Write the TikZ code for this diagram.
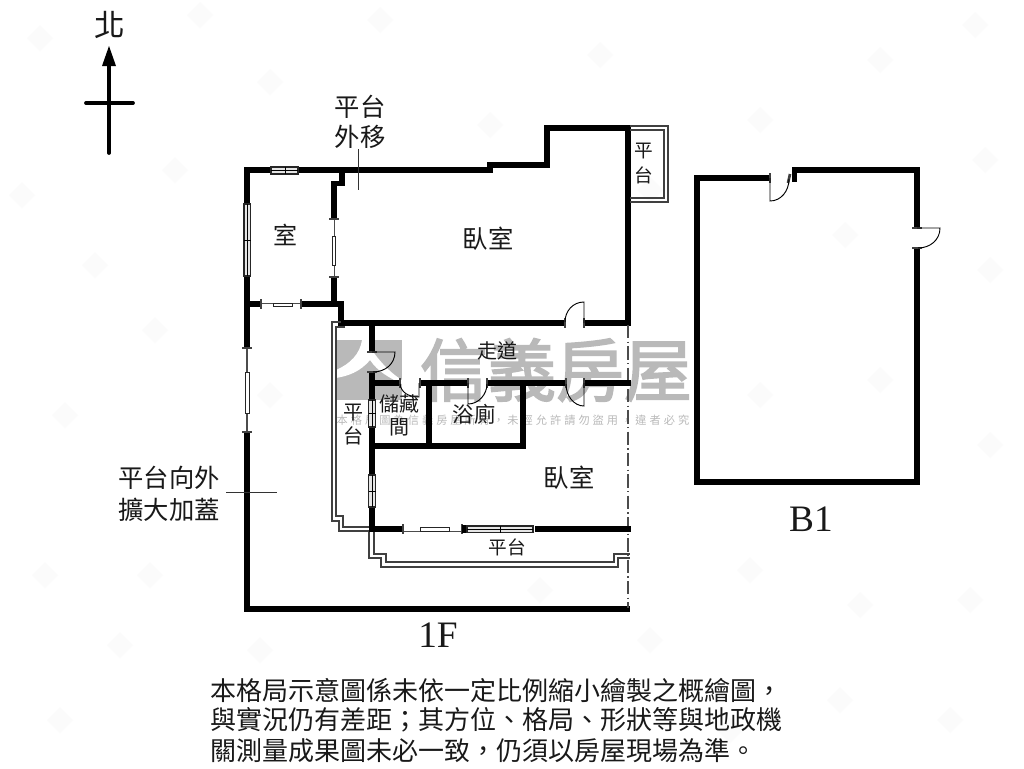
\documentclass[tikz,border=0pt]{standalone}
\usepackage{fontspec}
\setmainfont{Liberation Serif}
\newfontfamily\cjk{Noto Sans CJK TC}
\newfontfamily\cjkwide[LetterSpace=27]{Noto Sans CJK TC}
\newfontfamily\cjkheavy[FakeBold=2.5]{Noto Sans CJK TC}
\newcommand{\fpx}[1]{\fontsize{#1}{#1}\selectfont}
\newcommand{\fwc}{\char"FF0C\relax}
\newcommand{\fws}{\char"FF1B\relax}
\definecolor{wm}{HTML}{B9B9B9}
\definecolor{wmf}{HTML}{FBFBFB}
\tikzset{
  wall/.style={line width=4.4pt,line join=miter,line cap=butt,black},
  thin line/.style={line width=0.7pt,black!80},
  plat/.style={line width=0.85pt,black!75,line join=miter},
  leaf/.style={line width=0.7pt,black},
  jamb/.style={line width=2pt,black!75},
  glass/.style={draw=black!85,line width=0.7pt,fill=white},
  glassg/.style={draw=black!85,line width=0.8pt,fill=black!10},
  label/.style={inner sep=0pt,text=black!90,font=\cjk},
  latin/.style={inner sep=0pt,text=black!90},
}
\begin{document}
\begin{tikzpicture}[x=0.75pt,y=-0.75pt]
\useasboundingbox (0,0) rectangle (1024,768);
\fill[white] (0,0) rectangle (1024,768);
% faint repeated watermarks
\foreach \p in {(40,38),(200,15),(175,170),(22,195),(270,82),(380,20),(490,125),(600,55),(650,190),(760,120),(880,60),(975,25),(985,160),(845,235),(760,395),(880,380),(990,270),(65,415),(155,330),(95,265),(270,395),(150,575),(45,575),(260,650),(120,645),(60,720),(540,590),(650,640),(750,570),(860,605),(970,600),(990,445),(840,700),(950,720),(730,730)}
  \fill[wmf] \p ++(-13,0) -- ++(13,-13) -- ++(13,13) -- ++(-13,13) -- cycle;
% central watermark
\fill[wm] (336,340) rectangle (402,400);
\fill[white] (336,370) .. controls (350,364) and (360,354) .. (362,340) -- (372,340)
  .. controls (372,346) and (372,350) .. (374,353) .. controls (382,364) and (392,374) .. (402,380)
  -- (402,384) .. controls (390,378) and (378,372) .. (370,360)
  .. controls (360,372) and (348,376) .. (336,378) -- cycle;
\node[inner sep=0pt,text=wm,font=\cjkheavy\fpx{51}] (wmark) at (556,370) {信義房屋};
\node[inner sep=0pt,text=wm,font=\cjkwide\fpx{8.4}] (wmsmall) at (513,420) {本格局圖為信義房屋所有\fwc 未經允許請勿盜用\fwc 違者必究};
% north arrow
\draw[line width=2.8pt,line cap=round] (109,153) -- (109,62);
\draw[line width=2.8pt,line cap=round] (86,103) -- (133,103);
\fill (109,46) -- (116,66) -- (102,66) -- cycle;
% outer walls 1F
\draw[wall] (247,606) -- (247,167.5);
\draw[wall] (244,170.4) -- (490,170.4) -- (490,165) -- (547,165) -- (547,128) -- (628,128) -- (628,323) -- (584,323);
\draw[wall] (566,323) -- (341,323) -- (341,304) -- (301,304);
\draw[wall] (261,304) -- (247,304);
\draw[wall] (342,168) -- (342,183.5) -- (334,183.5) -- (334,219);
\draw[wall] (334,277) -- (334,304);
\draw[wall] (244,609) -- (630,609);
% clear left wall gap
\fill[white] (243,349) rectangle (251,431);
\draw[line width=0.8pt,black!70] (247,348) -- (247,432);
\draw[glass] (245,372) rectangle (249.5,413);
\draw[jamb] (242,348) -- (252,348);
\draw[jamb] (242,432) -- (252,432);
% left window
\draw[glassg] (244,204) rectangle (250.6,276);
\draw[line width=0.5pt] (247.3,204) -- (247.3,276) (244,240) -- (250.6,240);
% top window
\draw[glassg] (271,167) rectangle (298,174);
\draw[line width=0.5pt] (271,170.5) -- (298,170.5) (285,167) -- (285,174);
% inner vertical opening
\draw[line width=0.7pt,black!70] (334,219) -- (334,277);
\draw[glass] (332,236) rectangle (335.5,265);
\draw[jamb] (329,219) -- (339,219);
\draw[jamb] (329,277) -- (339,277);
% horizontal opening y=304
\draw[line width=0.7pt,black!70] (261,303) -- (301,303);
\draw[glass] (273,303) rectangle (292,306);
\draw[jamb] (261,299) -- (261,309);
\draw[jamb] (301,299) -- (301,309);
% platform north-east
\draw[plat] (630,126) -- (668,126) -- (668,202) -- (630,202);
\draw[plat] (630,130) -- (664,130) -- (664,198) -- (630,198);
% platform left
\draw[plat] (341,322) -- (332,322) -- (332,521) -- (339,521) -- (339,531) -- (372,531);
\draw[plat] (345,327) -- (336,327) -- (336,516) -- (343,516) -- (343,527) -- (372,527);
% platform south
\draw[plat] (369,530) -- (369,558) -- (381,558) -- (381,567) -- (618,567) -- (618,558) -- (630,558);
\draw[plat] (374,530) -- (374,554) -- (386,554) -- (386,562) -- (614,562) -- (614,554) -- (630,554);
% dash-dot line
\draw[line width=0.8pt,black!70,dash pattern=on 10pt off 2.5pt on 1pt off 2.5pt] (628,325) -- (628,608);
% interior walls
\draw[wall] (372,323) -- (372,352);
\draw[wall] (372,372) -- (372,532);
\draw[wall] (372,383) -- (400,383);
\draw[wall] (420,383) -- (468,383);
\draw[wall] (487,383) -- (566,383);
\draw[wall] (584,383) -- (631,383);
\draw[wall] (429,383) -- (429,446);
\draw[wall] (523,383) -- (523,448.5);
\draw[wall] (372,446) -- (526,446);
\draw[wall] (372,529) -- (403,529);
\draw[wall] (535,529) -- (631,529);
% windows on x=372
\draw[glassg] (368.5,400) rectangle (375.5,427);
\draw[line width=0.5pt] (372,400) -- (372,427) (368.5,413) -- (375.5,413);
\draw[glassg] (368.5,475) rectangle (375.5,507);
\draw[line width=0.5pt] (372,475) -- (372,507) (368.5,491) -- (375.5,491);
% south openings
\draw[line width=0.7pt,black!70] (403,531) -- (462,531);
\draw[glass] (420,527.5) rectangle (449,531);
\draw[jamb] (403,524) -- (403,534);
\draw[jamb] (462,524) -- (462,534);
\fill (462,525) rectangle (467,533);
\draw[glassg] (467,526) rectangle (533,532.5);
\draw[line width=0.5pt] (467,529.2) -- (533,529.2) (500,526) -- (500,532.5);
% doors 1F
\draw[jamb] (565,318) -- (565,328);
\draw[jamb] (584,318) -- (584,328);
\draw[leaf] (584,323) -- (584,302) .. controls (573,302) and (565,311) .. (565,322);
\draw[jamb] (367,352) -- (377,352);
\draw[jamb] (367,372) -- (377,372);
\draw[leaf] (372,352) -- (395,352) .. controls (395,364) and (385,372) .. (373,372);
\draw[jamb] (400,378) -- (400,388);
\draw[jamb] (420,378) -- (420,388);
\draw[leaf] (419,383) -- (419,397) .. controls (408,397) and (401,392) .. (400,384);
\draw[jamb] (468,378) -- (468,388);
\draw[jamb] (487,378) -- (487,388);
\draw[leaf] (468,383) -- (468,404) .. controls (479,404) and (487,394) .. (487,384);
\draw[jamb] (566,378) -- (566,388);
\draw[jamb] (584,378) -- (584,388);
\draw[leaf] (584,383) -- (584,406) .. controls (574,406) and (566,396) .. (566,384);
% B1
\draw[wall] (770,178) -- (697,178) -- (697,482) -- (917,482) -- (917,248);
\draw[wall] (917,228) -- (917,170) -- (794.5,170) -- (794.5,182);
\draw[jamb] (770,173) -- (770,183);
\draw[jamb] (790,174) -- (788,183);
\draw[leaf] (770,178) -- (770,201) .. controls (781,201) and (789,191) .. (789,179);
\draw[jamb] (912,228) -- (922,228);
\draw[jamb] (912,248) -- (922,248);
\draw[leaf] (917,228) -- (940,228) .. controls (940,240) and (930,248) .. (918,248);
% leader lines
\draw[thin line] (358,149) -- (358,190);
\draw[thin line] (226,492) -- (277,492);
% labels
\node[label,font=\cjk\fpx{23}] (north) at (110,25) {北};
\node[label,font=\cjk\fpx{19}] (pm1) at (360,107) {平台};
\node[label,font=\cjk\fpx{19}] (pm2) at (360,137) {外移};
\node[label,font=\cjk\fpx{18}] (room1) at (285,235) {室};
\node[label,font=\cjk\fpx{19}] (bed1) at (488,239) {臥室};
\node[label,font=\cjk\fpx{14}] (pr1) at (644,151) {平};
\node[label,font=\cjk\fpx{14}] (pr2) at (644,175) {台};
\node[label,font=\cjk\fpx{15}] (hall) at (497,351) {走道};
\node[label,font=\cjk\fpx{15}] (pl1) at (353,413) {平};
\node[label,font=\cjk\fpx{15}] (pl2) at (353,436) {台};
\node[label,font=\cjk\fpx{15}] (st1) at (399,404) {儲藏};
\node[label,font=\cjk\fpx{15}] (st2) at (399,427) {間};
\node[label,font=\cjk\fpx{16}] (bath) at (474,414) {浴廁};
\node[label,font=\cjk\fpx{19}] (bed2) at (569,478) {臥室};
\node[label,font=\cjk\fpx{14}] (ps) at (507,547) {平台};
\node[label,font=\cjk\fpx{19}] (ex1) at (169,478) {平台向外};
\node[label,font=\cjk\fpx{19}] (ex2) at (169,510) {擴大加蓋};
\node[latin,font=\fpx{28}] (f1) at (438,635) {1F};
\node[latin,font=\fpx{28}] (b1) at (811,519) {B1};
\node[label,anchor=west,font=\cjk\fpx{19.5}] (n1) at (210,690) {本格局示意圖係未依一定比例縮小繪製之概繪圖\fwc};
\node[label,anchor=west,font=\cjk\fpx{19.5}] (n2) at (210,720) {與實況仍有差距\fws 其方位、格局、形狀等與地政機};
\node[label,anchor=west,font=\cjk\fpx{19.5}] (n3) at (210,751) {關測量成果圖未必一致\fwc 仍須以房屋現場為準。};
\end{tikzpicture}
\end{document}
